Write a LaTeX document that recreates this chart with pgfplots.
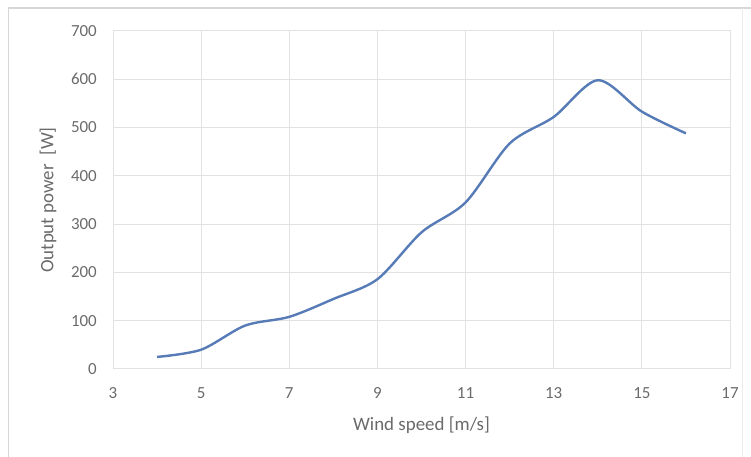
\documentclass[border=0pt]{standalone}
\usepackage{pgfplots}
\pgfplotsset{compat=1.18}
\usepackage{fontspec}
\setmainfont{Carlito}
\definecolor{gridc}{HTML}{E2E2E2}
\definecolor{txt}{HTML}{6A6A6A}
\definecolor{curve}{RGB}{86,123,182}
\definecolor{frame}{HTML}{D6D6D6}

\begin{document}
\begin{tikzpicture}[x=1bp,y=1bp]
\path[use as bounding box] (0,0) rectangle (751,457);
\draw[frame, line width=1.5bp] (8.5,0) -- (8.5,449) -- (751,449);
\draw[frame!50, line width=1bp] (742,449) -- (742,0);
\begin{axis}[
    at={(113bp,88bp)}, anchor=south west,
    width=617bp, height=338bp, scale only axis,
    xmin=3, xmax=17,
    ymin=0, ymax=700,
    xtick={3,5,...,17},
    ytick={0,100,...,700},
    grid=major,
    major grid style={gridc, line width=1bp},
    axis line style={gridc, line width=1bp},
    major tick length=0pt,
    /pgf/number format/assume math mode=true,
    ticklabel style={font=\fontsize{17}{20}\selectfont, text=txt, inner sep=0pt},
    xticklabel style={anchor=center, yshift=-24bp},
    yticklabel style={anchor=east, xshift=-16bp},
    xlabel={Wind speed [m/s]},
    ylabel={Output power\ \ [W]},
    label style={font=\fontsize{19}{22}\selectfont, text=txt},
    xlabel style={at={(axis description cs:0.5,0)}, anchor=center, yshift=-56bp},
    ylabel style={at={([xshift=-65bp]axis description cs:0,0.5)}, anchor=center},
]
\addplot[curve, line width=2.4bp, smooth, tension=0.5] coordinates {
    (4,25) (5,40) (6,90) (7,108) (8,145) (9,186) (10,283)
    (11,345) (12,467) (13,522) (14,598) (15,533) (16,488)
};
\end{axis}
\end{tikzpicture}
\end{document}
